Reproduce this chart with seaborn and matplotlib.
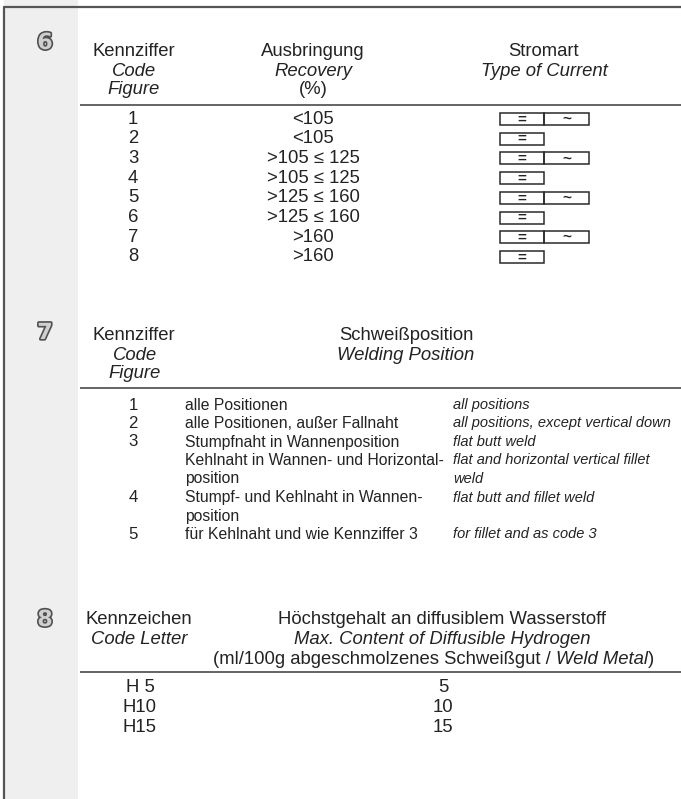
import matplotlib
matplotlib.use("Agg")
import matplotlib.pyplot as plt
import matplotlib.patheffects as pe
from matplotlib.patches import Rectangle
import seaborn as sns

# section 6 - recovery / type of current
recovery_codes = ["1", "2", "3", "4", "5", "6", "7", "8"]
recovery_values = ["<105", "<105", ">105 \u2264 125", ">105 \u2264 125",
                   ">125 \u2264 160", ">125 \u2264 160", ">160", ">160"]
ac_allowed = [True, False, True, False, True, False, True, False]

# section 7 - welding position
position_codes = ["1", "2", "3", "", "", "4", "", "5"]
position_de = ["alle Positionen", "alle Positionen, au\u00dfer Fallnaht",
               "Stumpfnaht in Wannenposition", "Kehlnaht in Wannen- und Horizontal-",
               "position", "Stumpf- und Kehlnaht in Wannen-", "position",
               "f\u00fcr Kehlnaht und wie Kennziffer 3"]
position_en = ["all positions", "all positions, except vertical down", "flat butt weld",
               "flat and horizontal vertical fillet", "weld", "flat butt and fillet weld",
               "", "for fillet and as code 3"]

# section 8 - diffusible hydrogen
hydrogen_letters = ["H 5", "H10", "H15"]
hydrogen_values = ["5", "10", "15"]

sns.set_theme(style="white")
REG = "Liberation Sans"
plt.rcParams["font.family"] = [REG, "DejaVu Sans"]

TXT = "#232323"
LINE = "#4a4a4a"
FS = 13.3
FS_DE = 11.3  # section 7 rows are set in a narrow face in the original
FS_EN = 10.5

fig = plt.figure(figsize=(6.81, 7.99), dpi=100)
ax = fig.add_axes([0, 0, 1, 1])
ax.set_xlim(0, 681)
ax.set_ylim(799, 0)
ax.axis("off")

# sidebar and frame
ax.axvspan(4, 78, color="#efefef", lw=0)
ax.plot([3.5, 3.5], [7, 799], color="#555555", lw=1.6)
ax.plot([3.5, 681], [7, 7], color="#555555", lw=1.6)


def t(x, y, s, style="normal", ha="center", size=FS):
    return ax.text(x, y, s, ha=ha, va="center", fontsize=size, color=TXT,
                   fontstyle=style)


def section_no(y, s):
    ax.text(45, y, s, ha="center", va="center", fontsize=16, fontweight="bold",
            color="#cfcfcf", family="DejaVu Sans",
            path_effects=[pe.withStroke(linewidth=2.4, foreground="#505050")])


# ---- section 6
section_no(43, "6")
t(134, 52, "Kennziffer")
t(134, 71, "Code", "italic")
t(134, 89, "Figure", "italic")
t(313, 52, "Ausbringung")
t(313, 71, "Recovery", "italic")
t(313, 89, "(%)")
t(544, 52, "Stromart")
t(544, 71, "Type of Current", "italic")
ax.hlines(105, 80, 681, color=LINE, lw=1.2)

for i, (c, v, ac) in enumerate(zip(recovery_codes, recovery_values, ac_allowed)):
    y = 119 + i * 19.7
    t(133, y, c)
    t(313, y, v)
    ax.add_patch(Rectangle((500, y - 6), 44, 12, fill=False, ec="#2a2a2a", lw=1.1))
    ax.text(522, y + 0.5, "=", ha="center", va="center", fontsize=11, color=TXT,
            fontweight="bold")
    if ac:
        ax.add_patch(Rectangle((544, y - 6), 45, 12, fill=False, ec="#2a2a2a", lw=1.1))
        ax.text(567, y, "~", ha="center", va="center", fontsize=11, color=TXT,
                fontweight="bold")

# ---- section 7
section_no(333, "7")
t(134, 335, "Kennziffer")
t(135, 355, "Code", "italic")
t(135, 374, "Figure", "italic")
t(406, 335, "Schwei\u00dfposition")
t(406, 355, "Welding Position", "italic")
ax.hlines(388, 80, 681, color=LINE, lw=1.2)

for i, (c, de, en) in enumerate(zip(position_codes, position_de, position_en)):
    y = 405 + i * 18.5
    t(133, y, c, size=FS_DE + 0.8)
    t(185, y, de, ha="left", size=FS_DE)
    t(453, y, en, "italic", ha="left", size=FS_EN)

# ---- section 8
section_no(620, "8")
t(139, 620, "Kennzeichen")
t(139, 639, "Code Letter", "italic")
t(442, 620, "H\u00f6chstgehalt an diffusiblem Wasserstoff")
t(442, 639, "Max. Content of Diffusible Hydrogen", "italic")

# mixed upright / italic line, laid out piece by piece
parts = [("(ml/100g abgeschmolzenes Schwei\u00dfgut / ", "normal"),
         ("Weld Metal", "italic"), (")", "normal")]
r = fig.canvas.get_renderer()
inv = ax.transData.inverted()
objs = [t(0, 659, s, st, ha="left") for s, st in parts]
widths = []
for o in objs:
    bb = o.get_window_extent(r)
    x0 = inv.transform((bb.x0, bb.y0))[0]
    x1 = inv.transform((bb.x1, bb.y0))[0]
    widths.append(x1 - x0)
x = 434 - sum(widths) / 2
for o, w in zip(objs, widths):
    o.set_x(x)
    x += w
ax.hlines(672, 80, 681, color=LINE, lw=1.2)

for i, (h, v) in enumerate(zip(hydrogen_letters, hydrogen_values)):
    y = 688 + i * 19.5
    t(140, y, h)
    t(443, y, v)

fig.savefig("out.png", dpi=100)
